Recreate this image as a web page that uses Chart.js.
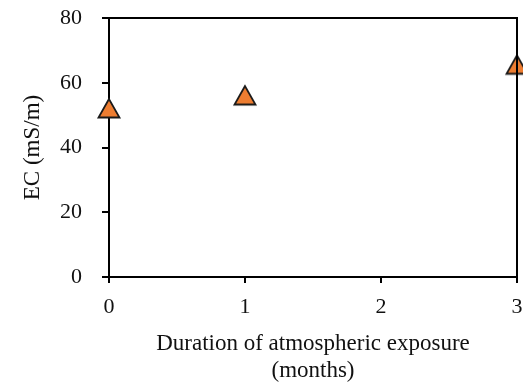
<!DOCTYPE html>
<html>
<head>
<meta charset="utf-8">
<script src="https://cdn.jsdelivr.net/npm/chart.js@4"></script>
<style>
  html, body { margin: 0; padding: 0; background: #fff; }
  #wrap { width: 523px; height: 385px; }
</style>
</head>
<body>
<div id="wrap"><canvas id="ecChart" width="523" height="385"></canvas></div>
<script>
// data
const months = [0, 1, 3];
const ecValues = [52.2, 56.2, 65.7];
const xTicks = [0, 1, 2, 3];
const yTicks = [0, 20, 40, 60, 80];

const serif = "'Liberation Serif', 'Times New Roman', serif";

// triangle marker drawn on a small canvas so it is centred like Excel's
function makeTriangle() {
    const c = document.createElement('canvas');
    c.width = 26; c.height = 24;
    const ctx = c.getContext('2d');
    ctx.beginPath();
    ctx.moveTo(13, 3);
    ctx.lineTo(2.5, 21.5);
    ctx.lineTo(23.5, 21.5);
    ctx.closePath();
    ctx.fillStyle = '#ED7D31';
    ctx.fill();
    ctx.lineWidth = 1.8;
    ctx.lineJoin = 'miter';
    ctx.strokeStyle = '#1a1a1a';
    ctx.stroke();
    return c;
}

// top and right frame lines of the plot area
const frame = {
    id: 'frame',
    afterDraw(chart) {
        const { ctx, chartArea: a } = chart;
        ctx.save();
        ctx.strokeStyle = '#000';
        ctx.lineWidth = 2;
        ctx.beginPath();
        ctx.moveTo(a.left, a.top);
        ctx.lineTo(a.right, a.top);
        ctx.lineTo(a.right, a.bottom);
        ctx.stroke();
        ctx.restore();
    }
};

new Chart(document.getElementById('ecChart'), {
    type: 'scatter',
    data: {
        datasets: [{
            label: 'EC',
            data: months.map((m, i) => ({ x: m, y: ecValues[i] })),
            pointStyle: makeTriangle(),
            clip: false
        }]
    },
    options: {
        responsive: false,
        animation: false,
        layout: { padding: { left: 0, top: 18, right: 6, bottom: 0 } },
        plugins: { legend: { display: false }, tooltip: { enabled: false } },
        scales: {
            x: {
                type: 'linear',
                min: 0, max: 3,
                afterBuildTicks: s => { s.ticks = xTicks.map(v => ({ value: v })); },
                afterFit: s => { s.height = 108; s.paddingLeft = 0; s.paddingRight = 0; },
                grid: { drawOnChartArea: false, color: '#000', lineWidth: 2, tickLength: 6 },
                border: { color: '#000', width: 2 },
                ticks: { color: '#111', padding: 11, font: { family: serif, size: 22 } },
                title: {
                    display: true,
                    text: ['Duration of atmospheric exposure', '(months)'],
                    color: '#111',
                    padding: { top: 0, bottom: 0 },
                    font: { family: serif, size: 23 }
                }
            },
            y: {
                min: 0, max: 80,
                afterBuildTicks: s => { s.ticks = yTicks.map(v => ({ value: v })); },
                afterFit: s => { s.width = 109; s.paddingTop = 0; s.paddingBottom = 0; },
                grid: { drawOnChartArea: false, color: '#000', lineWidth: 2, tickLength: 7 },
                border: { color: '#000', width: 2 },
                ticks: { color: '#111', padding: 20, font: { family: serif, size: 22 } },
                title: {
                    display: true,
                    text: 'EC (mS/m)',
                    color: '#111',
                    padding: { top: 19, bottom: 0 },
                    font: { family: serif, size: 23 }
                }
            }
        }
    },
    plugins: [frame]
});
</script>
</body>
</html>
